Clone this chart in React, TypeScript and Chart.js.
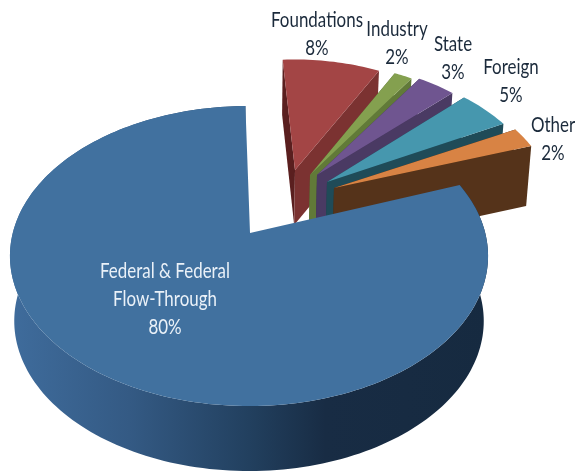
import React, { useEffect, useRef } from "react";
import { Chart, registerables } from "chart.js";

Chart.register(...registerables);

const categories = ["Federal & Federal Flow-Through", "Foundations", "Industry", "State", "Foreign", "Other"];
const labelLines = [["Federal & Federal", "Flow-Through"], ["Foundations"], ["Industry"], ["State"], ["Foreign"], ["Other"]];
const values = [80, 8, 2, 3, 5, 2];

const topColors = ["#41719f", "#a34545", "#84a04f", "#6f5590", "#4697ae", "#d88344"];
const endWallColors = ["#1b3048", "#7b3231", "#617a38", "#4a3a63", "#1f4b58", "#55331a"];
const startWallColors = ["#1b3048", "#5a1f1f", "#4e632d", "#3b2e50", "#1a3f4a", "#46290f"];

// Style of the exploded 3D view
const explodeX = [0, 45, 60, 67, 77, 84];
const explodeY = [0, -63, -58, -58, -51, -45];
const radiusScale = [1, 0.87, 0.89, 0.89, 0.91, 0.93];
const wallDepth = [65, 55, 56, 57, 58, 60];
const startTrimDeg = [0, -2, 0.8, -0.3, 0.7, 0];
const endTrimDeg = [0.7, 1.2, -0.6, 1.2, -0.5, 1.3];
const labelX = [165, 317, 397, 453, 511, 553];
const labelY = [271, 20, 29, 44, 67, 125];
const labelColors = ["#eaf1f8", "#1b2a3b", "#1b2a3b", "#1b2a3b", "#1b2a3b", "#1b2a3b"];
const LINE_HEIGHT = 28;
const TEXT_SQUEEZE = 0.77;
const FONT = '22px Lato, "Noto Sans", sans-serif';

type P = { x: number; y: number };
const RAD = Math.PI / 180;

const pie3d = {
  id: "pie3d",
  beforeDatasetsDraw(chart: any) {
    const ctx: CanvasRenderingContext2D = chart.ctx;
    const arcs = chart.getDatasetMeta(0).data as any[];
    const first = arcs[0].getProps(["x", "y", "outerRadius"], true);
    const rx = first.outerRadius * 1.026;
    const ry = first.outerRadius * 0.644;
    const cx = first.x - 1;
    const ax = 1 / rx;
    const ay = -23 / ry;

    const reach = (th: number) => {
      const dx = Math.sin(th);
      const dy = -Math.cos(th);
      const b = ax * dx + ay * dy;
      const c = ax * ax + ay * ay - 1;
      return -b + Math.sqrt(b * b - c);
    };
    const rimPoint = (i: number, th: number): P => {
      const t = reach(th) * radiusScale[i];
      return {
        x: first.x + explodeX[i] + t * rx * Math.sin(th),
        y: first.y + explodeY[i] - t * ry * Math.cos(th),
      };
    };
    const lower = (i: number, p: P): P => ({
      x: p.x - (p.x - cx) * 0.018,
      y: p.y + wallDepth[i],
    });
    const fill = (pts: P[], style: string | CanvasGradient) => {
      ctx.beginPath();
      pts.forEach((p, k) => (k ? ctx.lineTo(p.x, p.y) : ctx.moveTo(p.x, p.y)));
      ctx.closePath();
      ctx.fillStyle = style;
      ctx.fill();
    };
    const rim = (i: number) => {
      const props = arcs[i].getProps(["startAngle", "endAngle"], true);
      const a0 = props.startAngle + startTrimDeg[i] * RAD;
      const a1 = props.endAngle + endTrimDeg[i] * RAD;
      const steps = Math.max(8, Math.ceil((a1 - a0) * 40));
      const pts: P[] = [];
      for (let s = 0; s <= steps; s++) {
        pts.push(rimPoint(i, a0 + ((a1 - a0) * s) / steps + Math.PI / 2));
      }
      return pts;
    };

    ctx.save();
    // small slices, back to front
    for (let i = 1; i < arcs.length; i++) {
      const pts = rim(i);
      const apex = { x: first.x + explodeX[i], y: first.y + explodeY[i] };
      const S = pts[0];
      const E = pts[pts.length - 1];
      fill([apex, S, lower(i, S), lower(i, apex)], startWallColors[i]);
      fill([apex, E, lower(i, E), lower(i, apex)], endWallColors[i]);
      fill([apex, ...pts], topColors[i]);
    }
    // the big slice in front
    const pts = rim(0);
    const grad = ctx.createLinearGradient(cx - rx, 0, cx + rx, 0);
    grad.addColorStop(0, "#3f6c9c");
    grad.addColorStop(0.25, "#345a84");
    grad.addColorStop(0.5, "#22405f");
    grad.addColorStop(0.66, "#182c44");
    grad.addColorStop(1, "#162a40");
    fill([...pts, ...pts.map((p) => lower(0, p)).reverse()], grad);
    fill([{ x: first.x, y: first.y }, ...pts], topColors[0]);

    // labels
    ctx.font = FONT;
    ctx.textAlign = "center";
    ctx.textBaseline = "middle";
    arcs.forEach((_, i) => {
      ctx.fillStyle = labelColors[i];
      const lines = [...labelLines[i], values[i] + "%"];
      lines.forEach((line, k) =>
        ctx.fillText(line, labelX[i], labelY[i] + k * LINE_HEIGHT, ctx.measureText(line).width * TEXT_SQUEEZE)
      );
    });
    ctx.restore();
    return false;
  },
};

export default function App() {
  const ref = useRef<HTMLCanvasElement>(null);
  useEffect(() => {
    document.body.style.margin = "0";
    const chart = new Chart(ref.current!, {
      type: "pie",
      data: {
        labels: categories,
        datasets: [{ data: values, backgroundColor: topColors, borderWidth: 0 }],
      },
      options: {
        animation: false,
        responsive: false,
        rotation: 70,
        layout: { padding: { left: 0, top: 0, right: 75, bottom: 6 } },
        plugins: { legend: { display: false }, tooltip: { enabled: false } },
      },
      plugins: [pie3d],
    } as any);
    return () => chart.destroy();
  }, []);
  return <canvas ref={ref} width={575} height={472} style={{ display: "block" }} />;
}
